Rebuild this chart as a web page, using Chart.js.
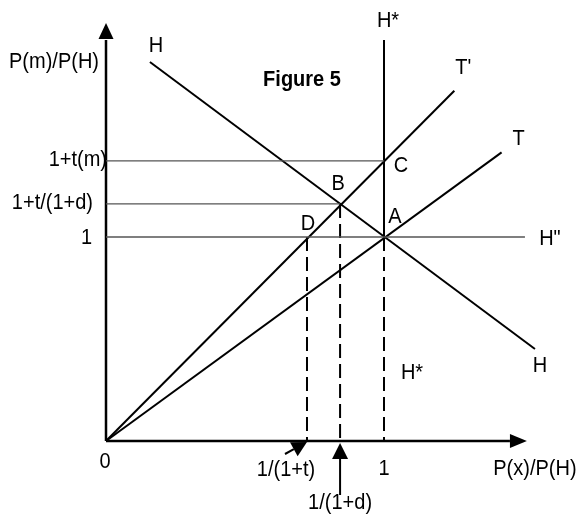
<!DOCTYPE html>
<html>
<head>
<meta charset="utf-8">
<script src="https://cdn.jsdelivr.net/npm/chart.js@4/dist/chart.umd.min.js"></script>
<style>
html,body{margin:0;padding:0;background:#fff;}
canvas{display:block;}
</style>
</head>
<body>
<canvas id="c" width="579" height="527"></canvas>
<script>
// ---- data ----
const xTickLabels = ['0', '1/(1+t)', '1/(1+d)', '1'];
const xTickValues = [0, 0.723, 0.842, 1];
const yTickLabels = ['1', '1+t/(1+d)', '1+t(m)'];
const yTickValues = [1, 1.162, 1.373];

const lineH      = [[0.158, 1.858], [1.543, 0.451]];
const lineT      = [[0, 0], [1.423, 1.415]];
const lineTprime = [[0, 0], [1.253, 1.717]];
const lineHstar  = [[1, 1], [1, 1.966]];
const hLineEnds  = [1.507, 0.842, 1];      // right end of the guide at each y tick
const xAxisEnd = 1.453, xAxisTip = 1.514;
const yAxisEnd = 1.966, yAxisTip = 2.049;

const pts = a => a.map(p => ({x: p[0], y: p[1]}));
const solid = (data, w) => ({data: pts(data), showLine: true, pointRadius: 0, borderColor: '#000', borderWidth: w || 2, fill: false});

const datasets = [];
// guides
yTickValues.forEach((v, i) => {
  datasets.push({data: pts([[0, v], [hLineEnds[i], v]]), showLine: true, pointRadius: 0, borderColor: '#555', borderWidth: 1.3});
});
// dashed verticals
[[xTickValues[1], 1], [xTickValues[2], yTickValues[1]], [1, 1]].forEach(p => {
  datasets.push({data: pts([[p[0], p[1]], [p[0], 0]]), showLine: true, pointRadius: 0, borderColor: '#000', borderWidth: 2, borderDash: [14, 6]});
});
datasets.push(solid(lineH));
datasets.push(solid(lineT));
datasets.push(solid(lineTprime));
datasets.push(solid(lineHstar));
// axes
datasets.push(solid([[0, 0], [xAxisEnd, 0]], 2.5));
datasets.push(solid([[0, 0], [0, yAxisEnd]], 2.5));

const W = 579, H = 527;
const ox = 106, oy = 441, sx = 278, sy = 204;

const FONT = '20px "Liberation Sans", Arial, sans-serif';
const STRETCH = 1.09;

const decor = {
  id: 'decor',
  afterDatasetsDraw(chart) {
    const ctx = chart.ctx, X = chart.scales.x, Y = chart.scales.y;
    const px = v => X.getPixelForValue(v), py = v => Y.getPixelForValue(v);
    ctx.save();
    ctx.fillStyle = '#000';
    const tri = (a, b, c) => { ctx.beginPath(); ctx.moveTo(a[0], a[1]); ctx.lineTo(b[0], b[1]); ctx.lineTo(c[0], c[1]); ctx.closePath(); ctx.fill(); };
    // axis arrowheads
    const yb = py(yAxisEnd) - 1, yt = py(yAxisTip);
    tri([px(0), yt], [px(0) - 7.5, yb], [px(0) + 7.5, yb]);
    const xb = px(xAxisEnd), xt = px(xAxisTip);
    tri([xt, py(0)], [xb, py(0) - 7], [xb, py(0) + 7]);
    // arrow to 1/(1+d)
    const bx = px(xTickValues[2]), by = py(0) + 2;
    ctx.strokeStyle = '#000'; ctx.lineWidth = 2;
    ctx.beginPath(); ctx.moveTo(bx, by + 14); ctx.lineTo(bx, by + 52); ctx.stroke();
    tri([bx, by], [bx - 8, by + 16], [bx + 8, by + 16]);
    // arrow to 1/(1+t)
    const tx = px(xTickValues[1]), ty = py(0) + 1;
    const dx = -22, dy = 12, L = Math.hypot(dx, dy), ux = dx / L, uy = dy / L;
    const hx = tx + ux * 15, hy = ty + uy * 15;
    ctx.beginPath(); ctx.moveTo(hx, hy); ctx.lineTo(tx + dx, ty + dy); ctx.stroke();
    tri([tx, ty], [hx - uy * 8, hy + ux * 8], [hx + uy * 8, hy - ux * 8]);

    // text
    ctx.font = FONT; ctx.textBaseline = 'middle';
    const txt = (s, x, y, align) => {
      ctx.save();
      ctx.translate(x, y); ctx.scale(1, STRETCH);
      ctx.textAlign = align || 'center'; ctx.fillText(s, 0, 0);
      ctx.restore();
    };
    // y tick labels
    txt(yTickLabels[2], px(0) + 1, py(yTickValues[2]) - 1, 'right');
    txt(yTickLabels[1], px(0) - 13, py(yTickValues[1]) - 1, 'right');
    txt(yTickLabels[0], px(0) - 14, py(yTickValues[0]) + 1, 'right');
    // x tick labels
    txt(xTickLabels[0], px(0) - 1, py(0) + 21);
    txt(xTickLabels[1], px(xTickValues[1]) - 21, py(0) + 29);
    txt(xTickLabels[2], px(xTickValues[2]), py(0) + 62);
    txt(xTickLabels[3], px(1), py(0) + 28);
    // axis titles
    txt('P(m)/P(H)', px(0) - 7, py(yAxisEnd) + 22, 'right');
    txt('P(x)/P(H)', px(xAxisTip) + 8, py(0) + 28);
    // curve labels
    txt('H', px(lineH[0][0]) + 6, py(lineH[0][1]) - 16);
    txt('H', px(lineH[1][0]) + 5, py(lineH[1][1]) + 17);
    txt('T\'', px(lineTprime[1][0]) + 9, py(lineTprime[1][1]) - 23);
    txt('T', px(lineT[1][0]) + 17, py(lineT[1][1]) - 13);
    txt('H*', px(1) + 4, py(lineHstar[1][1]) - 19);
    txt('H*', px(1) + 28, py(0) - 68);
    txt('H"', px(hLineEnds[0]) + 25, py(1) + 2);
    // points
    txt('A', px(1) + 11, py(1) - 20);
    txt('B', px(xTickValues[2]) - 2, py(yTickValues[1]) - 20);
    txt('C', px(1) + 17, py(yTickValues[2]) + 5);
    txt('D', px(xTickValues[1]) + 1, py(1) - 13);
    // title
    ctx.font = 'bold 20px "Liberation Sans", Arial, sans-serif';
    txt('Figure 5', 302, 80);
    ctx.restore();
  }
};

new Chart(document.getElementById('c'), {
  type: 'scatter',
  data: {datasets},
  options: {
    responsive: false,
    animation: false,
    devicePixelRatio: 1,
    layout: {padding: 0},
    plugins: {legend: {display: false}, tooltip: {enabled: false}, title: {display: false}},
    elements: {line: {tension: 0, borderCapStyle: 'butt'}},
    datasets: {scatter: {clip: false}},
    scales: {
      x: {type: 'linear', display: false, min: -ox / sx, max: (W - ox) / sx},
      y: {type: 'linear', display: false, min: -(H - oy) / sy, max: oy / sy}
    }
  },
  plugins: [{id: 'bg', beforeDraw(c) { const x = c.ctx; x.save(); x.fillStyle = '#fff'; x.fillRect(0, 0, c.width, c.height); x.restore(); }}, decor]
});
</script>
</body>
</html>
